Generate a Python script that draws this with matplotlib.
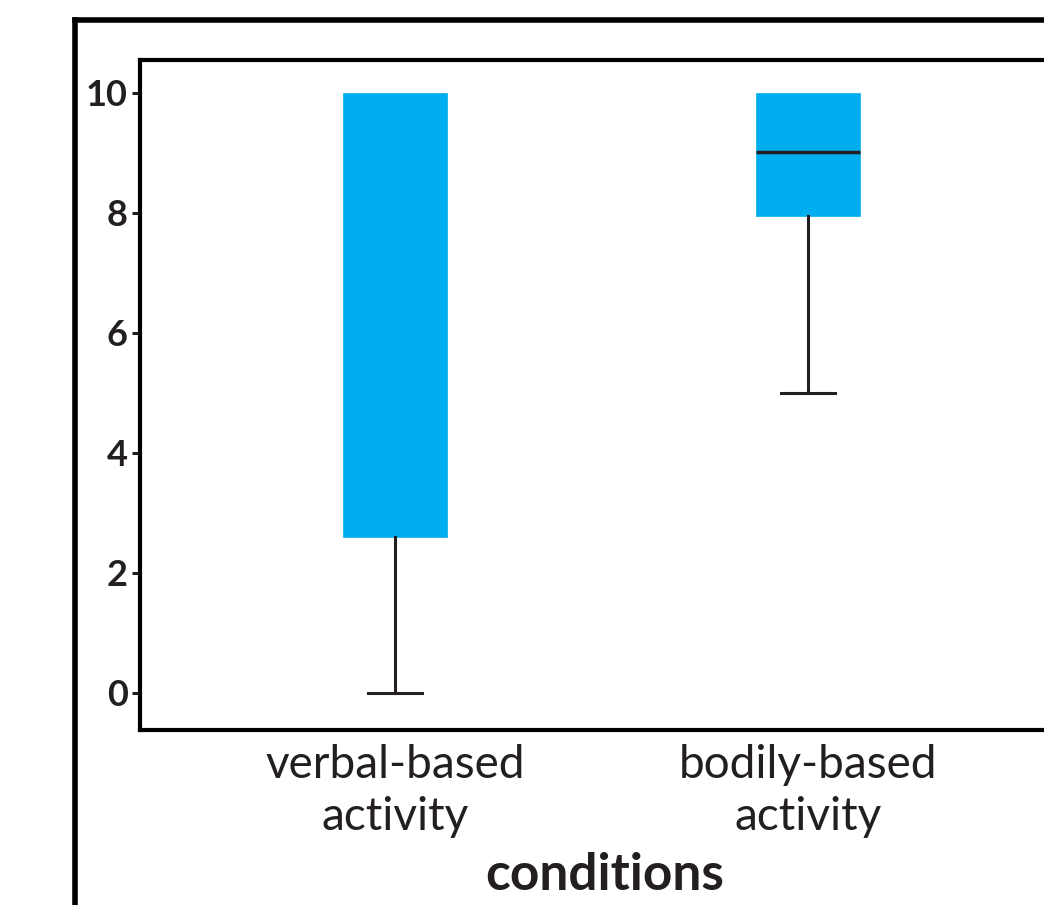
import matplotlib.pyplot as plt
from matplotlib.lines import Line2D

# Data
conditions = ['verbal-based\nactivity', 'bodily-based\nactivity']
whisker_low = [0, 5]
q1 = [2.6, 7.95]
median = [10, 9.02]
q3 = [10, 10]
whisker_high = [10, 10]

box_color = '#00AEEF'
ink = '#231F20'

plt.rcParams['font.family'] = ['Lato', 'DejaVu Sans']

fig = plt.figure(figsize=(10.44, 9.05), dpi=100)
W, H = 1044, 905
# axes: left 140px, top 60px, bottom 730px, right runs past the figure edge
ax = fig.add_axes([140 / W, 1 - 730 / H, 923 / W, 670 / H])

stats = []
for i in range(len(conditions)):
    stats.append(dict(whislo=whisker_low[i], q1=q1[i], med=median[i],
                      q3=q3[i], whishi=whisker_high[i], fliers=[]))

parts = ax.bxp(stats, positions=[0, 1], widths=0.25, patch_artist=True,
               showfliers=False,
               boxprops=dict(facecolor=box_color, edgecolor=box_color, linewidth=0.5),
               medianprops=dict(color=ink, linewidth=2.5),
               whiskerprops=dict(color=ink, linewidth=2.2),
               capprops=dict(color=ink, linewidth=2.2),
               capwidths=0.13)

# upper caps sit on the box top and are not drawn; median at the top is hidden too
for i in range(len(conditions)):
    parts['caps'][2 * i + 1].set_visible(False)
    if median[i] >= q3[i]:
        parts['medians'][i].set_visible(False)

ax.set_xlim(-0.617, 1.617)
ax.set_ylim(-0.62, 10.55)
ax.set_yticks([0, 2, 4, 6, 8, 10])
ax.set_xticks([0, 1])
ax.set_xticklabels(conditions, fontsize=33, linespacing=1.3)
ax.tick_params(axis='x', length=0, pad=10)
ax.tick_params(axis='y', length=6, width=2.2, color=ink, pad=3, labelsize=26)
for lab in ax.get_yticklabels():
    lab.set_fontweight('bold')
    lab.set_color(ink)
for lab in ax.get_xticklabels():
    lab.set_color(ink)

for s in ['left', 'top', 'bottom', 'right']:
    ax.spines[s].set_linewidth(3)
    ax.spines[s].set_color('black')

ax.set_xlabel('conditions', fontsize=37, fontweight='bold', color=ink)
ax.xaxis.set_label_coords((605 - 140) / 923, -(852 - 730) / 670)

# outer frame around the panel
fig.add_artist(Line2D([75 / W, 75 / W], [1 - 20 / H, 0], color='black', linewidth=4, solid_capstyle='projecting'))
fig.add_artist(Line2D([75 / W, 1.02], [1 - 20 / H, 1 - 20 / H], color='black', linewidth=4, solid_capstyle='projecting'))

fig.savefig('out.png', dpi=100)
